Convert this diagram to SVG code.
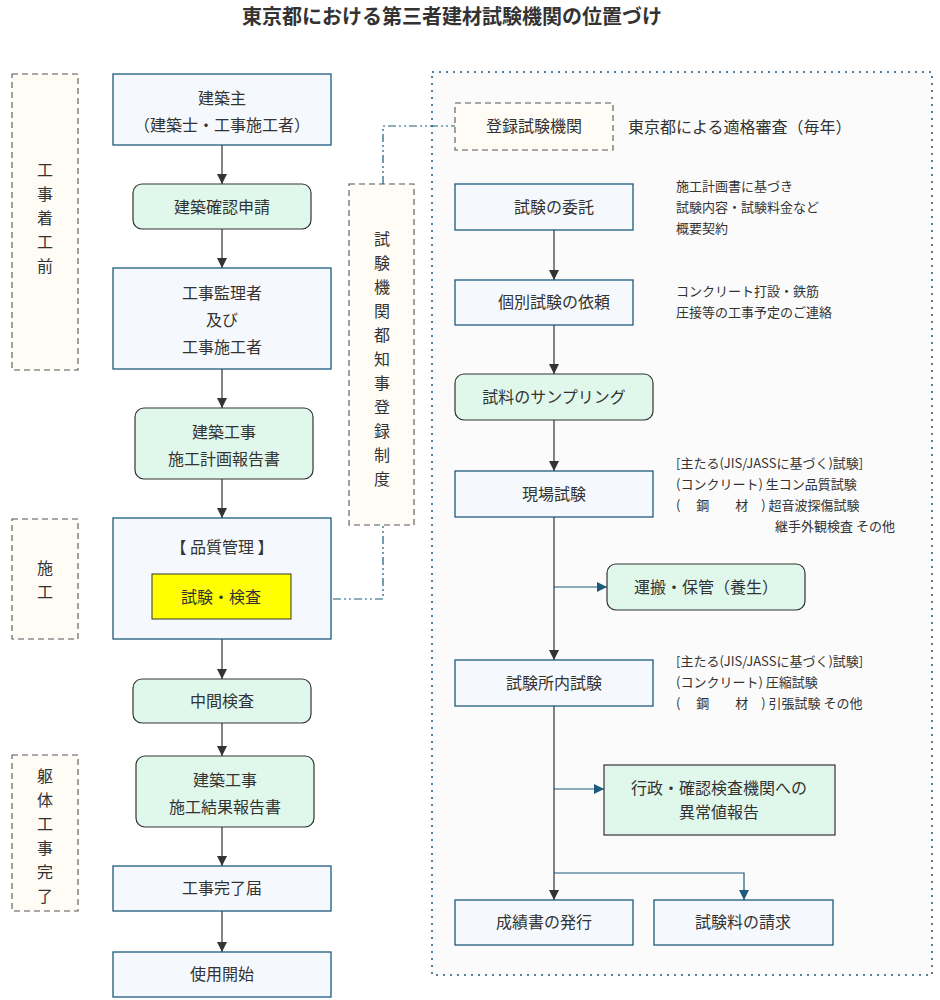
<svg xmlns="http://www.w3.org/2000/svg" width="940" height="1000" viewBox="0 0 940 1000">
<style>
text{font-family:"Noto Sans CJK JP","Noto Sans",sans-serif;fill:#333}
.t{font-size:20px;font-weight:bold;text-anchor:middle}
.n{font-size:16px;text-anchor:middle}
.s{font-size:13px}
.v{font-size:16px;text-anchor:middle}
.b{fill:#f5f9fd;stroke:#1c5a7e;stroke-width:1.3}
.g{fill:#e0f8ec;stroke:#333;stroke-width:1.2}
.d{fill:#fffcf5;stroke:#555;stroke-width:1.1;stroke-dasharray:6 4}
.c{stroke:#333;stroke-width:1.2;fill:none}
.cb{stroke:#1c5a7e;stroke-width:1.2;fill:none}
.dd{stroke:#1c5a7e;stroke-width:1.2;fill:none;stroke-dasharray:8 3 2 3 2 3}
</style>
<defs>
<marker id="a" viewBox="0 0 10 10" refX="10" refY="5" markerWidth="10" markerHeight="10" markerUnits="userSpaceOnUse" orient="auto"><path d="M0,0L10,5L0,10z" fill="#333"/></marker>
<marker id="ab" viewBox="0 0 10 10" refX="10" refY="5" markerWidth="10" markerHeight="10" markerUnits="userSpaceOnUse" orient="auto"><path d="M0,0L10,5L0,10z" fill="#1c5a7e"/></marker>
</defs>
<rect width="940" height="1000" fill="#fff"/>
<text class="t" x="452" y="24">東京都における第三者建材試験機関の位置づけ</text>
<rect x="432" y="72" width="500" height="903" fill="#fbfbfb" stroke="#1c5a7e" stroke-width="1.5" stroke-dasharray="2 5"/>
<g id="phase1"><rect class="d" x="12" y="74" width="66" height="296"/><text class="v" x="45" y="176">工</text><text class="v" x="45" y="200">事</text><text class="v" x="45" y="224">着</text><text class="v" x="45" y="248">工</text><text class="v" x="45" y="272">前</text></g>
<g id="phase2"><rect class="d" x="12" y="519" width="66" height="120"/><text class="v" x="45" y="574">施</text><text class="v" x="45" y="598">工</text></g>
<g id="phase3"><rect class="d" x="12" y="755" width="66" height="156"/><text class="v" x="45" y="782">躯</text><text class="v" x="45" y="806">体</text><text class="v" x="45" y="830">工</text><text class="v" x="45" y="854">事</text><text class="v" x="45" y="878">完</text><text class="v" x="45" y="902">了</text></g>
<g id="reg"><rect class="d" x="349" y="184" width="65" height="341"/>
<text class="v" x="382" y="245">試</text><text class="v" x="382" y="269">験</text><text class="v" x="382" y="293">機</text><text class="v" x="382" y="317">関</text><text class="v" x="382" y="341">都</text><text class="v" x="382" y="365">知</text><text class="v" x="382" y="389">事</text><text class="v" x="382" y="413">登</text><text class="v" x="382" y="437">録</text><text class="v" x="382" y="461">制</text><text class="v" x="382" y="485">度</text></g>
<g id="connectors">
<path class="c" d="M222 145V184" marker-end="url(#a)"/>
<path class="c" d="M222 229V268" marker-end="url(#a)"/>
<path class="c" d="M222 369V408" marker-end="url(#a)"/>
<path class="c" d="M222 479V518" marker-end="url(#a)"/>
<path class="c" d="M222 639V679" marker-end="url(#a)"/>
<path class="c" d="M222 723V756" marker-end="url(#a)"/>
<path class="c" d="M222 827V866" marker-end="url(#a)"/>
<path class="c" d="M222 911V952" marker-end="url(#a)"/>
<path class="dd" d="M383 184V126H455"/>
<path class="dd" d="M291 599H383V525"/>
<path class="c" d="M554 230V280" marker-end="url(#a)"/>
<path class="c" d="M554 325V374" marker-end="url(#a)"/>
<path class="c" d="M554 420V471" marker-end="url(#a)"/>
<path class="c" d="M554 517V660" marker-end="url(#a)"/>
<path class="cb" d="M554 587H607" marker-end="url(#ab)"/>
<path class="c" d="M554 706V900" marker-end="url(#a)"/>
<path class="cb" d="M554 789H604" marker-end="url(#ab)"/>
<path class="cb" d="M554 873H744V900" marker-end="url(#ab)"/>
</g>
<g id="n1"><rect class="b" x="113" y="74" width="218" height="71"/><text class="n" x="222" y="104">建築主</text><text class="n" x="222" y="131">（建築士・工事施工者）</text></g>
<g id="n2"><rect class="g" x="133" y="184" width="178" height="45" rx="9"/><text class="n" x="222" y="213">建築確認申請</text></g>
<g id="n3"><rect class="b" x="113" y="268" width="218" height="101"/><text class="n" x="222" y="299">工事監理者</text><text class="n" x="222" y="326">及び</text><text class="n" x="222" y="353">工事施工者</text></g>
<g id="n4"><rect class="g" x="135" y="408" width="178" height="71" rx="9"/><text class="n" x="224" y="438">建築工事</text><text class="n" x="224" y="465">施工計画報告書</text></g>
<g id="n5"><rect class="b" x="113" y="518" width="218" height="121"/><text class="n" x="222" y="553">【 品質管理 】</text>
<rect x="152" y="574" width="139" height="45" fill="#ffff00" stroke="#333" stroke-width="1"/><text class="n" x="221" y="603">試験・検査</text></g>
<g id="n6"><rect class="g" x="133" y="679" width="178" height="44" rx="9"/><text class="n" x="222" y="707">中間検査</text></g>
<g id="n7"><rect class="g" x="136" y="756" width="178" height="71" rx="9"/><text class="n" x="225" y="786">建築工事</text><text class="n" x="225" y="813">施工結果報告書</text></g>
<g id="n8"><rect class="b" x="113" y="866" width="218" height="45"/><text class="n" x="222" y="894">工事完了届</text></g>
<g id="n9"><rect class="b" x="113" y="952" width="218" height="45"/><text class="n" x="222" y="980">使用開始</text></g>
<g id="r0"><rect class="d" x="455" y="103" width="158" height="47"/><text class="n" x="534" y="132">登録試験機関</text><text class="n" x="628" y="133" style="text-anchor:start">東京都による適格審査（毎年）</text></g>
<g id="r1"><rect class="b" x="455" y="184" width="178" height="46"/><text class="n" x="554" y="213">試験の委託</text>
<text class="s" x="676" y="191">施工計画書に基づき</text><text class="s" x="676" y="212">試験内容・試験料金など</text><text class="s" x="676" y="233">概要契約</text></g>
<g id="r2"><rect class="b" x="455" y="280" width="178" height="45"/><text class="n" x="554" y="308">個別試験の依頼</text>
<text class="s" x="676" y="296">コンクリート打設・鉄筋</text><text class="s" x="676" y="317">圧接等の工事予定のご連絡</text></g>
<g id="r3"><rect class="g" x="455" y="374" width="198" height="46" rx="9"/><text class="n" x="554" y="403">試料のサンプリング</text></g>
<g id="r4"><rect class="b" x="455" y="471" width="198" height="46"/><text class="n" x="554" y="500">現場試験</text>
<text class="s" x="676" y="468">[主たる(JIS/JASSに基づく)試験]</text><text class="s" x="676" y="489">(コンクリート) 生コン品質試験</text><text class="s" x="676" y="510">(　 鋼　　材　) 超音波探傷試験</text><text class="s" x="775" y="531">継手外観検査 その他</text></g>
<g id="r5"><rect class="g" x="607" y="564" width="198" height="46" rx="9"/><text class="n" x="706" y="593">運搬・保管（養生）</text></g>
<g id="r6"><rect class="b" x="455" y="660" width="198" height="46"/><text class="n" x="554" y="689">試験所内試験</text>
<text class="s" x="676" y="666">[主たる(JIS/JASSに基づく)試験]</text><text class="s" x="676" y="687">(コンクリート) 圧縮試験</text><text class="s" x="676" y="708">(　 鋼　　材　) 引張試験 その他</text></g>
<g id="r7"><rect class="g" x="604" y="765" width="231" height="70" rx="0"/><text class="n" x="719" y="794">行政・確認検査機関への</text><text class="n" x="719" y="818">異常値報告</text></g>
<g id="r8"><rect class="b" x="455" y="900" width="178" height="45"/><text class="n" x="544" y="928">成績書の発行</text></g>
<g id="r9"><rect class="b" x="654" y="900" width="179" height="45"/><text class="n" x="743" y="928">試験料の請求</text></g>
</svg>
